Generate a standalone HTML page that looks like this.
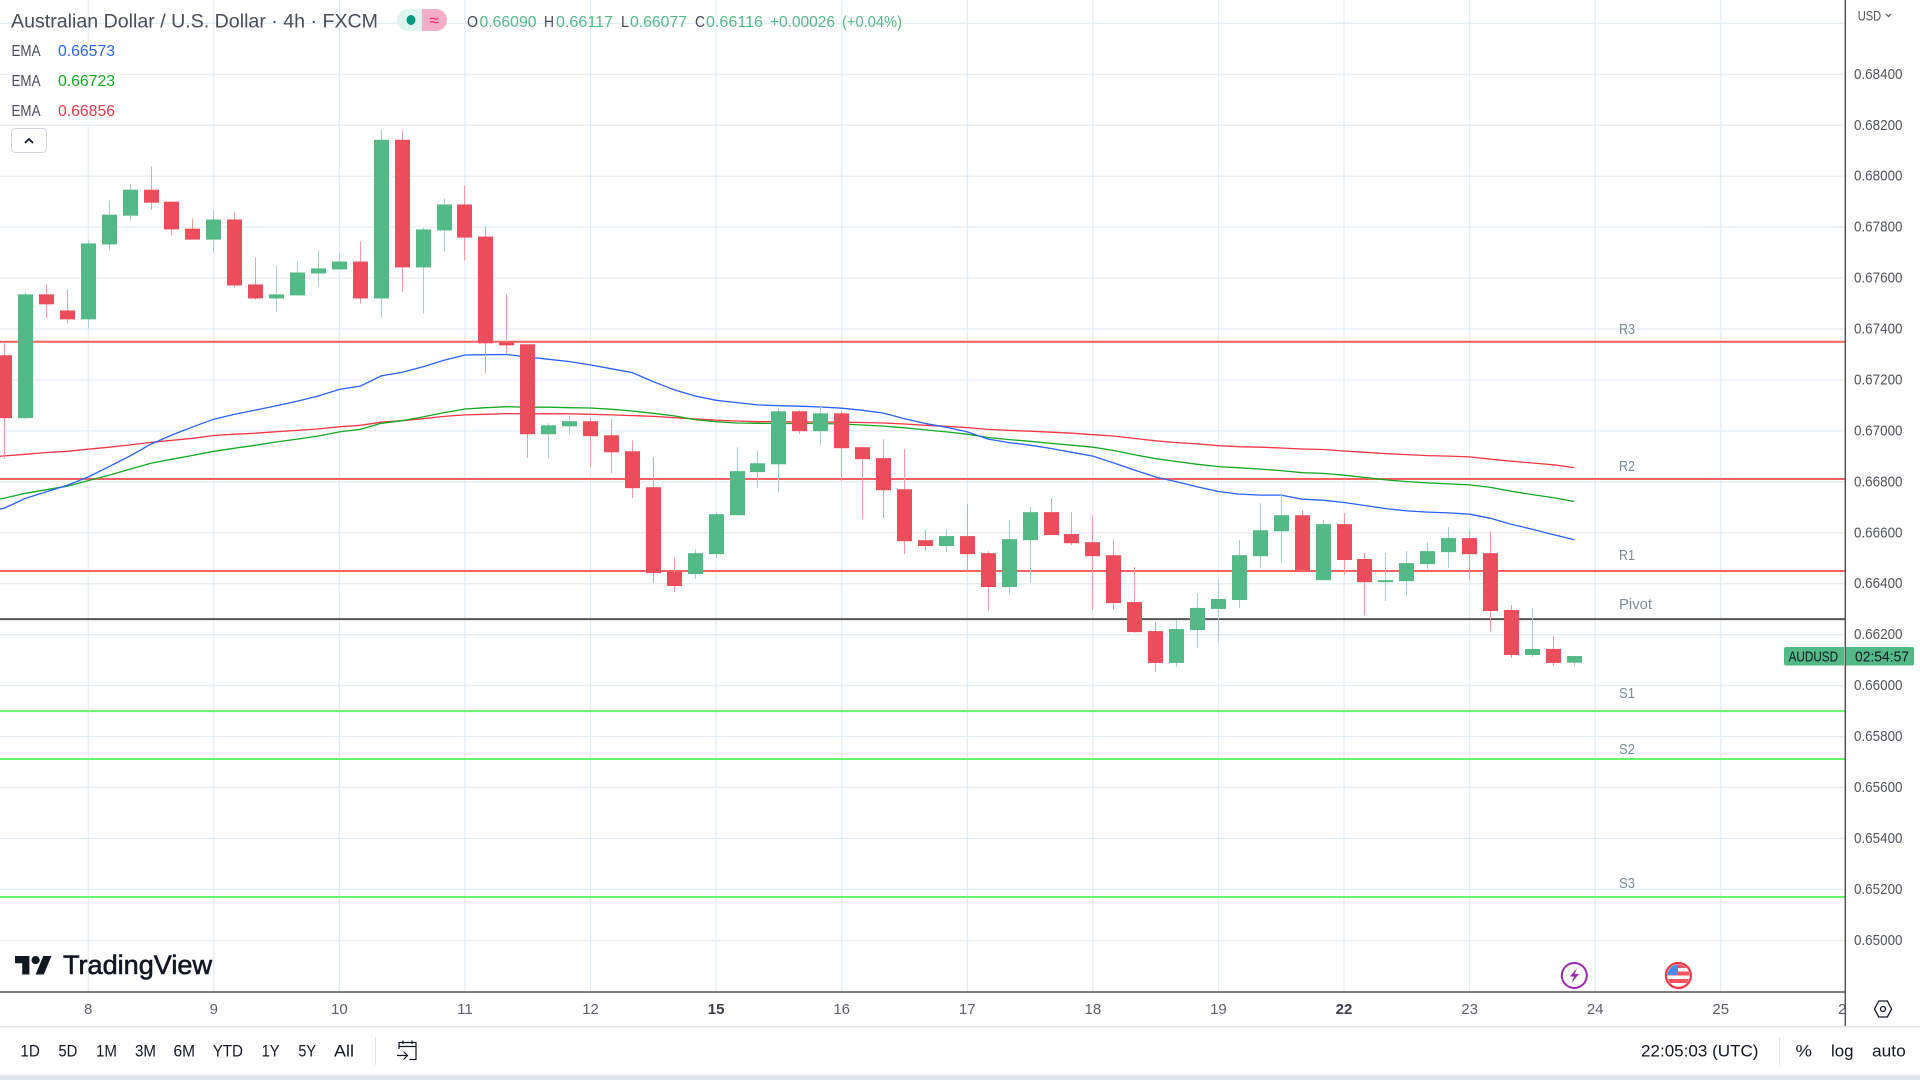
<!DOCTYPE html>
<html lang="en">
<head>
<meta charset="utf-8">
<title>AUD/USD 4h chart</title>
<style>
html,body{margin:0;padding:0;background:#fff;width:1920px;height:1080px;overflow:hidden}
svg{display:block}
text{font-family:"Liberation Sans",sans-serif}
</style>
</head>
<body>
<svg id="chart" xmlns="http://www.w3.org/2000/svg" width="1920" height="1080" viewBox="0 0 1920 1080">
  <defs>
    <clipPath id="plot-clip"><rect x="0" y="0" width="1845" height="992"/></clipPath>
    <clipPath id="time-clip"><rect x="0" y="992" width="1845" height="34"/></clipPath>
    <clipPath id="flag-clip"><circle cx="1678.4" cy="975.5" r="11"/></clipPath>
  </defs>
  <rect x="0" y="0" width="1920" height="1080" fill="#ffffff"/>
  <g id="grid"></g>
  <g id="levels" clip-path="url(#plot-clip)"></g>
  <g id="emas" clip-path="url(#plot-clip)"></g>
  <g id="candles" clip-path="url(#plot-clip)"></g>
  <g id="ylabels"></g>
  <g id="xlabels" clip-path="url(#time-clip)"></g>

  <!-- legend header -->
  <g>
    <text x="11" y="27.500" font-size="19" fill="#4a4d57" textLength="367" lengthAdjust="spacingAndGlyphs">Australian Dollar / U.S. Dollar · 4h · FXCM</text>
    <g>
      <path d="M422 9H408a11 11 0 0 0 0 22h14z" fill="#dff3ef"/>
      <path d="M422 9h14a11 11 0 0 1 0 22h-14z" fill="#f5aec8"/>
      <ellipse cx="411" cy="20" rx="4.5" ry="5" fill="#089981"/>
      <text x="434" y="26" font-size="17" text-anchor="middle" fill="#e91e63">≈</text>
    </g>
    <g font-size="16" fill="#53b987">
      <text x="467" y="27" fill="#4a4d57" textLength="11" lengthAdjust="spacingAndGlyphs">O</text>
      <text x="479.5" y="27" textLength="57" lengthAdjust="spacingAndGlyphs">0.66090</text>
      <text x="544" y="27" fill="#4a4d57" textLength="10" lengthAdjust="spacingAndGlyphs">H</text>
      <text x="556" y="27" textLength="57" lengthAdjust="spacingAndGlyphs">0.66117</text>
      <text x="621" y="27" fill="#4a4d57" textLength="8" lengthAdjust="spacingAndGlyphs">L</text>
      <text x="630" y="27" textLength="57" lengthAdjust="spacingAndGlyphs">0.66077</text>
      <text x="695" y="27" fill="#4a4d57" textLength="10" lengthAdjust="spacingAndGlyphs">C</text>
      <text x="706" y="27" textLength="57" lengthAdjust="spacingAndGlyphs">0.66116</text>
      <text x="770" y="27" textLength="65" lengthAdjust="spacingAndGlyphs">+0.00026</text>
      <text x="842" y="27" textLength="60" lengthAdjust="spacingAndGlyphs">(+0.04%)</text>
    </g>
    <rect x="8" y="40" width="112" height="84" fill="#ffffff" opacity="0.85"/>
    <g font-size="16">
      <text x="11.5" y="56" fill="#4a4d57" textLength="29" lengthAdjust="spacingAndGlyphs">EMA</text>
      <text x="58" y="56" fill="#2962ff" textLength="57" lengthAdjust="spacingAndGlyphs">0.66573</text>
      <text x="11.5" y="86" fill="#4a4d57" textLength="29" lengthAdjust="spacingAndGlyphs">EMA</text>
      <text x="58" y="86" fill="#0fa91f" textLength="57" lengthAdjust="spacingAndGlyphs">0.66723</text>
      <text x="11.5" y="116" fill="#4a4d57" textLength="29" lengthAdjust="spacingAndGlyphs">EMA</text>
      <text x="58" y="116" fill="#f23645" textLength="57" lengthAdjust="spacingAndGlyphs">0.66856</text>
    </g>
    <g>
      <rect x="11.5" y="128.5" width="35" height="24" rx="4" fill="#ffffff" stroke="#d1d4dc" stroke-width="1"/>
      <path d="M25 143l4-4 4 4" fill="none" stroke="#131722" stroke-width="1.7"/>
    </g>
  </g>

  <!-- logo -->
  <g>
    <path d="M29.4 974.5H22.2V963.2H15V956H29.4zM43.8 974.5H35.6L43.3 956H51.5z" fill="#131722"/>
    <circle cx="35.6" cy="960.1" r="4.1" fill="#131722"/>
    <text x="63" y="974" font-size="26.500" fill="#131722" stroke="#131722" stroke-width="0.6" textLength="149" lengthAdjust="spacingAndGlyphs">TradingView</text>
  </g>

  <!-- event markers -->
  <g>
    <circle cx="1574.3" cy="975.5" r="12.5" fill="#ffffff" stroke="#9c27b0" stroke-width="2"/>
    <path d="M1577 968l-7 8.5h4l-2.5 6.5 7.5-9h-4.300z" fill="#9c27b0"/>
  </g>
  <g>
    <circle cx="1678.4" cy="975.5" r="12.500" fill="#ffffff" stroke="#f23645" stroke-width="2.2"/>
    <g clip-path="url(#flag-clip)">
      <rect x="1666" y="964" width="24" height="4" fill="#f7525f"/>
      <rect x="1666" y="971.500" width="24" height="4" fill="#f7525f"/>
      <rect x="1666" y="979" width="24" height="4" fill="#f7525f"/>
      <rect x="1666" y="964" width="12" height="11" fill="#4a8fe7"/>
    </g>
  </g>

  <!-- axis borders -->
  <line x1="0" y1="992" x2="1845" y2="992" stroke="#555" stroke-width="1.500"/>
  <line x1="1845.3" y1="0" x2="1845.3" y2="1026" stroke="#555" stroke-width="1.500"/>

  <!-- last price tag -->
  <g>
    <path d="M1786 647H1844V665.500H1786a2 2 0 0 1-2-2V649a2 2 0 0 1 2-2z" fill="#53b987"/>
    <text x="1788.600" y="661.500" font-size="15" fill="#131722" textLength="49.500" lengthAdjust="spacingAndGlyphs">AUDUSD</text>
    <path d="M1846 647H1912a2 2 0 0 1 2 2V663.500a2 2 0 0 1-2 2H1846z" fill="#53b987"/>
    <text x="1855" y="661.500" font-size="15" fill="#131722" textLength="54" lengthAdjust="spacingAndGlyphs">02:54:57</text>
  </g>

  <!-- price axis controls -->
  <g>
    <text x="1857.700" y="20.500" font-size="14" fill="#555" textLength="23.500" lengthAdjust="spacingAndGlyphs">USD</text>
    <path d="M1886 14l2.500 2.500 2.500-2.500" fill="none" stroke="#555" stroke-width="1.200"/>
  </g>
  <g>
    <path d="M1874.500 1009l4.300-8h8.500l4.300 8-4.300 8h-8.500z" fill="none" stroke="#131722" stroke-width="1.300"/>
    <circle cx="1883" cy="1009" r="2.500" fill="none" stroke="#131722" stroke-width="1.300"/>
  </g>

  <!-- bottom toolbar -->
  <line x1="0" y1="1026.700" x2="1920" y2="1026.700" stroke="#e0e3eb" stroke-width="1.500"/>
  <g font-size="17" fill="#131722">
    <text x="20.400" y="1056.500" textLength="19.500" lengthAdjust="spacingAndGlyphs">1D</text>
    <text x="58.400" y="1056.500" textLength="19" lengthAdjust="spacingAndGlyphs">5D</text>
    <text x="96" y="1056.500" textLength="21" lengthAdjust="spacingAndGlyphs">1M</text>
    <text x="135" y="1056.500" textLength="21" lengthAdjust="spacingAndGlyphs">3M</text>
    <text x="173.500" y="1056.500" textLength="21.500" lengthAdjust="spacingAndGlyphs">6M</text>
    <text x="212.700" y="1056.500" textLength="30.300" lengthAdjust="spacingAndGlyphs">YTD</text>
    <text x="261.600" y="1056.500" textLength="18" lengthAdjust="spacingAndGlyphs">1Y</text>
    <text x="298.400" y="1056.500" textLength="17.600" lengthAdjust="spacingAndGlyphs">5Y</text>
    <text x="334" y="1056.500" textLength="20" lengthAdjust="spacingAndGlyphs">All</text>
  </g>
  <line x1="375.500" y1="1037" x2="375.500" y2="1065" stroke="#e0e3eb" stroke-width="1"/>
  <g fill="none" stroke="#131722" stroke-width="1.200">
    <path d="M399 1049v-6.500h17v17h-6.500"/>
    <path d="M399 1046.500h17M403 1040.500v3.500M412 1040.500v3.500"/>
    <path d="M397 1055.500h10M403.500 1051.500l4 4-4 4"/>
  </g>
  <text x="1641" y="1056.500" font-size="17" fill="#131722" textLength="117.500" lengthAdjust="spacingAndGlyphs">22:05:03 (UTC)</text>
  <line x1="1779.600" y1="1037" x2="1779.600" y2="1065" stroke="#e0e3eb" stroke-width="1"/>
  <text x="1795.500" y="1056.500" font-size="17" fill="#131722" textLength="16.500" lengthAdjust="spacingAndGlyphs">%</text>
  <text x="1831" y="1056.500" font-size="17" fill="#131722" textLength="22.500" lengthAdjust="spacingAndGlyphs">log</text>
  <text x="1872" y="1056.500" font-size="17" fill="#131722" textLength="33.700" lengthAdjust="spacingAndGlyphs">auto</text>
  <rect x="0" y="1075" width="1920" height="5" fill="#e0e3eb"/>
</svg>

<script>
// ---- chart data ----
const candleOpen = [0.67297,0.67050,0.67536,0.67473,0.67438,0.67732,0.67845,0.67947,0.67900,0.67794,0.67751,0.67830,0.67575,0.67520,0.67532,0.67618,0.67634,0.67665,0.67520,0.68143,0.67642,0.67787,0.67889,0.67763,0.67347,0.67340,0.66987,0.67018,0.67038,0.66983,0.66920,0.66779,0.66446,0.66438,0.66516,0.66669,0.66838,0.66869,0.67077,0.66999,0.67069,0.66936,0.66893,0.66771,0.66571,0.66548,0.66587,0.66520,0.66387,0.66571,0.66681,0.66595,0.66563,0.66512,0.66328,0.66214,0.66089,0.66218,0.66301,0.66336,0.66508,0.66606,0.66669,0.66414,0.66634,0.66497,0.66406,0.66410,0.66477,0.66524,0.66579,0.66520,0.66297,0.66120,0.66144,0.66090];
const candleHigh = [0.67344,0.67546,0.67575,0.67555,0.67750,0.67904,0.67971,0.68038,0.67900,0.67834,0.67869,0.67861,0.67681,0.67649,0.67665,0.67708,0.67700,0.67744,0.68183,0.68179,0.67798,0.67912,0.67963,0.67802,0.67536,0.67340,0.67030,0.67061,0.67053,0.67046,0.66963,0.66897,0.66504,0.66536,0.66681,0.66936,0.66924,0.67089,0.67081,0.67100,0.67077,0.66936,0.66967,0.66928,0.66610,0.66614,0.66712,0.66528,0.66650,0.66701,0.66736,0.66681,0.66669,0.66571,0.66465,0.66250,0.66257,0.66363,0.66418,0.66571,0.66716,0.66755,0.66689,0.66650,0.66677,0.66520,0.66520,0.66528,0.66563,0.66622,0.66610,0.66606,0.66316,0.66305,0.66195,0.66117];
const candleLow = [0.66891,0.67046,0.67442,0.67422,0.67402,0.67710,0.67826,0.67869,0.67767,0.67751,0.67700,0.67563,0.67516,0.67469,0.67532,0.67567,0.67634,0.67500,0.67446,0.67544,0.67461,0.67704,0.67669,0.67226,0.67300,0.66893,0.66893,0.66987,0.66857,0.66834,0.66736,0.66403,0.66367,0.66418,0.66501,0.66669,0.66775,0.66759,0.66987,0.66944,0.66802,0.66654,0.66657,0.66516,0.66528,0.66524,0.66450,0.66293,0.66359,0.66403,0.66591,0.66552,0.66297,0.66297,0.66207,0.66054,0.66073,0.66148,0.66171,0.66305,0.66465,0.66481,0.66450,0.66414,0.66434,0.66277,0.66332,0.66352,0.66457,0.66461,0.66414,0.66214,0.66108,0.66112,0.66077,0.66077];
const candleClose = [0.67050,0.67536,0.67497,0.67438,0.67736,0.67849,0.67947,0.67896,0.67791,0.67751,0.67830,0.67571,0.67520,0.67536,0.67622,0.67638,0.67665,0.67520,0.68143,0.67642,0.67791,0.67889,0.67759,0.67344,0.67336,0.66987,0.67022,0.67038,0.66979,0.66916,0.66775,0.66442,0.66391,0.66520,0.66673,0.66842,0.66873,0.67077,0.66999,0.67069,0.66932,0.66889,0.66767,0.66567,0.66548,0.66587,0.66516,0.66387,0.66575,0.66681,0.66591,0.66559,0.66508,0.66324,0.66210,0.66089,0.66222,0.66305,0.66340,0.66512,0.66610,0.66669,0.66454,0.66634,0.66493,0.66406,0.66414,0.66481,0.66528,0.66579,0.66516,0.66293,0.66120,0.66144,0.66089,0.66116];
// EMA series: first value belongs to the candle just left of the visible range
const emaFast = [0.66680,0.66697,0.66735,0.66761,0.66787,0.66819,0.66860,0.66902,0.66948,0.66984,0.67016,0.67046,0.67065,0.67082,0.67099,0.67117,0.67137,0.67163,0.67176,0.67216,0.67230,0.67252,0.67277,0.67298,0.67299,0.67300,0.67290,0.67281,0.67272,0.67259,0.67244,0.67229,0.67193,0.67161,0.67137,0.67120,0.67111,0.67102,0.67099,0.67097,0.67094,0.67089,0.67081,0.67070,0.67048,0.67029,0.67014,0.66996,0.66968,0.66954,0.66944,0.66931,0.66916,0.66901,0.66874,0.66846,0.66819,0.66800,0.66780,0.66762,0.66752,0.66748,0.66748,0.66732,0.66728,0.66719,0.66707,0.66695,0.66686,0.66681,0.66678,0.66673,0.66657,0.66633,0.66614,0.66593,0.66573];
const emaMid = [0.66722,0.66736,0.66755,0.66769,0.66783,0.66805,0.66826,0.66850,0.66873,0.66889,0.66904,0.66920,0.66932,0.66944,0.66957,0.66968,0.66980,0.66996,0.67006,0.67030,0.67040,0.67055,0.67072,0.67086,0.67091,0.67095,0.67093,0.67093,0.67091,0.67090,0.67085,0.67078,0.67069,0.67059,0.67044,0.67036,0.67031,0.67030,0.67029,0.67029,0.67029,0.67027,0.67023,0.67019,0.67012,0.67004,0.66996,0.66987,0.66974,0.66966,0.66959,0.66951,0.66944,0.66936,0.66923,0.66906,0.66891,0.66880,0.66869,0.66860,0.66855,0.66850,0.66844,0.66836,0.66833,0.66826,0.66817,0.66808,0.66801,0.66796,0.66792,0.66788,0.66778,0.66763,0.66750,0.66738,0.66723];
const emaSlow = [0.66895,0.66902,0.66908,0.66915,0.66920,0.66928,0.66936,0.66945,0.66955,0.66963,0.66971,0.66982,0.66987,0.66991,0.66997,0.67002,0.67008,0.67016,0.67022,0.67034,0.67040,0.67048,0.67057,0.67063,0.67065,0.67068,0.67067,0.67067,0.67067,0.67065,0.67063,0.67060,0.67057,0.67052,0.67047,0.67042,0.67039,0.67036,0.67036,0.67035,0.67035,0.67034,0.67033,0.67031,0.67027,0.67022,0.67018,0.67013,0.67006,0.67002,0.66999,0.66995,0.66991,0.66985,0.66980,0.66970,0.66961,0.66954,0.66949,0.66942,0.66938,0.66936,0.66933,0.66929,0.66927,0.66921,0.66916,0.66911,0.66907,0.66903,0.66901,0.66898,0.66889,0.66881,0.66874,0.66867,0.66856];
// Pivot levels
const levelNames = ['R3','R2','R1','Pivot','S1','S2','S3'];
const levelPrices = [0.67350,0.66811,0.66450,0.66261,0.65900,0.65712,0.65170];
const levelLabelPrices = [0.67400,0.66862,0.66512,0.66320,0.65971,0.65752,0.65225];
// Axis ticks
const priceTicks = [0.686,0.684,0.682,0.680,0.678,0.676,0.674,0.672,0.670,0.668,0.666,0.664,0.662,0.660,0.658,0.656,0.654,0.652,0.650];
const dayLabels = ['8','9','10','11','12','15','16','17','18','19','22','23','24','25','26'];
const boldDays = ['15','22'];
const candlesPerDay = 6;
const firstDayCandle = 4;

// ---- axis functions ----
const xScale = function (i) { return 4.5 + i * 20.93; };
const yScale = function (p) { return 940.3 + (0.65 - p) * 25470; };

const NS = 'http://www.w3.org/2000/svg';
function make(tag, parentId, props) {
  const el = document.createElementNS(NS, tag);
  for (const k in props) el.setAttribute(k, props[k]);
  document.getElementById(parentId).appendChild(el);
  return el;
}

// ---- grid ----
priceTicks.forEach(function (p) {
  const y = yScale(p);
  const gl = make('line', 'grid', { x1: 0, x2: 1845, y1: y, y2: y, stroke: '#e2ecf3', 'stroke-width': 1.2 });
  
  
  if (p < 0.6855) {
    const t = make('text', 'ylabels', { x: 1854, y: y + 4.5, 'font-size': 15, fill: '#50535e', textLength: 48.5, lengthAdjust: 'spacingAndGlyphs' });
    t.textContent = p.toFixed(5);
    
    
  }
});
dayLabels.forEach(function (d, n) {
  const x = xScale(firstDayCandle + n * candlesPerDay);
  if (x < 1845) {
    const gl = make('line', 'grid', { x1: x, x2: x, y1: 0, y2: 992, stroke: '#e2ecf3', 'stroke-width': 1.2 });
    
    
  }
  const bold = boldDays.indexOf(d) >= 0;
  const t = make('text', 'xlabels', { x: x, y: 1014, 'font-size': 15, 'text-anchor': 'middle', fill: bold ? '#3a3d46' : '#5d606b', 'font-weight': bold ? 'bold' : 'normal' });
  t.textContent = d;
  
  
});

// ---- pivot levels ----
levelNames.forEach(function (name, i) {
  const y = yScale(levelPrices[i]);
  const colour = name === 'Pivot' ? '#555555' : (name.charAt(0) === 'R' ? '#ff5f5f' : '#66f566');
  const ln = make('line', 'levels', { x1: 0, x2: 1845, y1: y, y2: y, stroke: colour, 'stroke-width': 2 });
  
  
  const t = make('text', 'levels', { x: 1619, y: yScale(levelLabelPrices[i]) + 5, 'font-size': 15, fill: '#7a8b99', textLength: name === 'Pivot' ? 33 : 16, lengthAdjust: 'spacingAndGlyphs' });
  t.textContent = name;
  
  
});

// ---- EMA lines ----
function emaPath(series) {
  return series.map(function (p, i) {
    return (i === 0 ? 'M' : 'L') + xScale(i - 1).toFixed(1) + ' ' + yScale(p).toFixed(1);
  }).join('');
}
const slowLine = make('path', 'emas', { d: emaPath(emaSlow), fill: 'none', stroke: '#f23645', 'stroke-width': 1.3 });


const midLine = make('path', 'emas', { d: emaPath(emaMid), fill: 'none', stroke: '#13a922', 'stroke-width': 1.3 });


const fastLine = make('path', 'emas', { d: emaPath(emaFast), fill: 'none', stroke: '#2962ff', 'stroke-width': 1.3 });



// ---- candles ----
candleOpen.forEach(function (open, i) {
  const close = candleClose[i];
  const up = close >= open;
  const x = xScale(i);
  const wx = Math.floor(x) + 0.5;
  const wick = make('line', 'candles', { x1: wx, x2: wx, y1: yScale(candleHigh[i]), y2: yScale(candleLow[i]), stroke: up ? '#a3cfce' : '#f59aa3', 'stroke-width': 1 });
  
  
  const top = yScale(Math.max(open, close));
  const bottom = yScale(Math.min(open, close));
  const body = make('rect', 'candles', { x: Math.round(x - 7.5), y: top, width: 15, height: Math.max(1, bottom - top), fill: up ? '#53b987' : '#eb4d5c' });
  
  
});
</script>
</body>
</html>
